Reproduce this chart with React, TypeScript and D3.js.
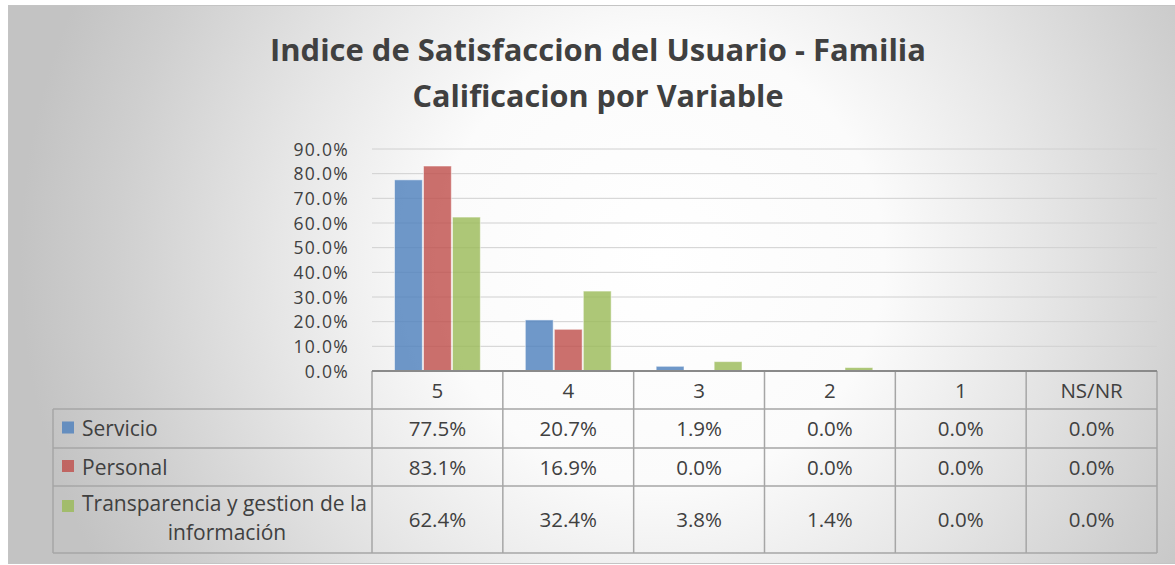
import React from "react";
import * as d3 from "d3";

const categories = ["5", "4", "3", "2", "1", "NS/NR"];
const seriesNames = ["Servicio", "Personal", "Transparencia y gestion de la información"];
const servicio = [77.5, 20.7, 1.9, 0.0, 0.0, 0.0];
const personal = [83.1, 16.9, 0.0, 0.0, 0.0, 0.0];
const transparencia = [62.4, 32.4, 3.8, 1.4, 0.0, 0.0];
const yTicks = [0, 10, 20, 30, 40, 50, 60, 70, 80, 90];
const titleLines = ["Indice de Satisfaccion del Usuario - Familia", "Calificacion por Variable"];

const seriesValues = [servicio, personal, transparencia];
const colors = ["#4f81bd", "#c0504d", "#9bbb59"];

const W = 1175;
const H = 565;
const plotLeft = 372;
const plotRight = 1157;
const plotTop = 149;
const plotBottom = 371;
const tableLeft = 53;
const rowLines = [371, 409, 448, 486, 553];
const FONT = "'Open Sans', 'DejaVu Sans', sans-serif";
const TXT = "#404040";

export default function App() {
  const x = d3.scaleBand<string>().domain(categories).range([plotLeft, plotRight]).padding(0);
  const bw = x.bandwidth();
  const inner = d3
    .scaleBand<number>()
    .domain([0, 1, 2])
    .range([bw * 0.172, bw * 0.828])
    .paddingInner(0.04);
  const y = d3.scaleLinear().domain([0, 90]).range([plotBottom, plotTop]);
  const fmt = (v: number) => d3.format(".1f")(v) + "%";

  const colEdges = [tableLeft, ...categories.map((c) => x(c)!), plotRight];

  return (
    <svg width={W} height={H} style={{ position: "absolute", left: 0, top: 0 }} fontFamily={FONT}>
      <defs>
        <radialGradient id="bg" gradientUnits="userSpaceOnUse" cx={660} cy={260} r={640}>
          <stop offset="0" stopColor="#ffffff" />
          <stop offset="0.35" stopColor="#fbfbfb" />
          <stop offset="0.6" stopColor="#e6e6e6" />
          <stop offset="0.85" stopColor="#cfcfcf" />
          <stop offset="1" stopColor="#c3c3c3" />
        </radialGradient>
      </defs>
      <rect x={8.5} y={5.5} width={1170} height={558} fill="url(#bg)" stroke="#c4c4c4" strokeWidth={1} />

      {/* Title */}
      {titleLines.map((t, i) => (
        <text
          key={t}
          x={598}
          y={61 + i * 46}
          textAnchor="middle"
          fontSize={31}
          fontWeight="bold"
          fill={TXT}
          textLength={i === 0 ? 656 : 371}
          lengthAdjust="spacingAndGlyphs"
        >
          {t}
        </text>
      ))}

      {/* Gridlines */}
      {yTicks.slice(1).map((t) => (
        <line key={t} x1={plotLeft} x2={plotRight} y1={y(t)} y2={y(t)} stroke="#d0d0d0" strokeWidth={1} />
      ))}

      {/* Y tick labels */}
      {yTicks.map((t) => (
        <text
          key={t}
          x={349}
          y={y(t) + 6.5}
          textAnchor="end"
          fontSize={17.5}
          letterSpacing={1.3}
          fill={TXT}
        >
          {fmt(t)}
        </text>
      ))}

      {/* Bars */}
      {categories.map((c, ci) =>
        seriesValues.map((vals, si) => {
          const v = vals[ci];
          if (v <= 0) return null;
          return (
            <rect
              key={c + si}
              x={x(c)! + inner(si)!}
              y={y(v)}
              width={inner.bandwidth()}
              height={plotBottom - y(v)}
              fill={colors[si]}
              fillOpacity={0.82}
              stroke="#ffffff"
              strokeOpacity={0.5}
              strokeWidth={1}
            />
          );
        })
      )}

      {/* Table */}
      {rowLines.slice(1).map((ry) => (
        <line key={ry} x1={tableLeft} x2={plotRight} y1={ry} y2={ry} stroke="#a6a6a6" strokeWidth={1.5} />
      ))}
      {colEdges.map((cx, i) => (
        <line
          key={i}
          x1={cx}
          x2={cx}
          y1={i === 0 ? rowLines[1] : rowLines[0]}
          y2={rowLines[4]}
          stroke="#a6a6a6"
          strokeWidth={1.5}
        />
      ))}
      <line x1={plotLeft} x2={plotRight} y1={plotBottom} y2={plotBottom} stroke="#8a8a8a" strokeWidth={2} />

      {/* Header row */}
      {categories.map((c) => (
        <text
          key={c}
          x={x(c)! + bw / 2}
          y={(rowLines[0] + rowLines[1]) / 2 + 7.5}
          textAnchor="middle"
          fontSize={20.5}
          fill={TXT}
        >
          {c}
        </text>
      ))}

      {/* Series rows */}
      {seriesValues.map((vals, si) => {
        const top = rowLines[si + 1];
        const bot = rowLines[si + 2];
        const mid = (top + bot) / 2;
        return (
          <g key={si}>
            {si < 2 ? (
              <g>
                <rect x={62} y={mid - 7} width={12} height={12} fill={colors[si]} fillOpacity={0.82} />
                <text x={82} y={mid + 7.5} fontSize={21} fill={TXT}>
                  {seriesNames[si]}
                </text>
              </g>
            ) : (
              <g>
                <rect x={62} y={mid - 19.5} width={12} height={12} fill={colors[si]} fillOpacity={0.82} />
                <text x={82} y={mid - 8.5} fontSize={21} fill={TXT}>
                  {"Transparencia y gestion de la"}
                </text>
                <text x={227} y={mid + 20.5} fontSize={21} fill={TXT} textAnchor="middle">
                  {"información"}
                </text>
              </g>
            )}
            {categories.map((c, ci) => (
              <text
                key={c}
                x={x(c)! + bw / 2}
                y={mid + 7.5}
                textAnchor="middle"
                fontSize={20.5}
                fill={TXT}
              >
                {fmt(vals[ci])}
              </text>
            ))}
          </g>
        );
      })}
    </svg>
  );
}
